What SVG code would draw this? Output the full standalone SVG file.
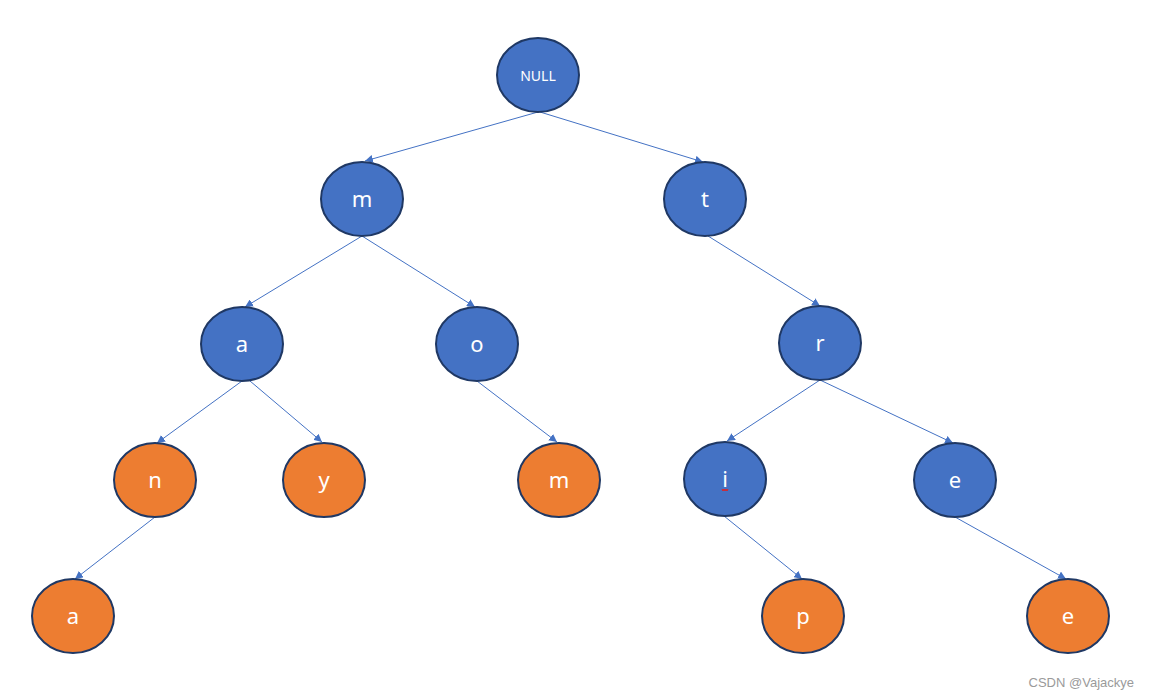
<svg xmlns="http://www.w3.org/2000/svg" width="1149" height="699" viewBox="0 0 1149 699">
<style>
.n ellipse{stroke:#1F3864;stroke-width:2}
.b ellipse{fill:#4472C4}
.o ellipse{fill:#ED7D31}
.n text{fill:#fff;font-family:"Noto Sans","Liberation Sans",sans-serif;font-size:22px;text-anchor:middle;dominant-baseline:central}
#edges line{stroke:#4472C4;stroke-width:1;marker-end:url(#ah)}
</style>
<defs>
<marker id="ah" viewBox="0 0 10 10" refX="10" refY="5" markerWidth="8" markerHeight="8" markerUnits="userSpaceOnUse" orient="auto">
<path d="M0,0 L10,5 L0,10 z" fill="#4472C4"/>
</marker>
</defs>
<rect width="1149" height="699" fill="#fff"/>
<g id="edges">
<line x1="538" y1="112" x2="365" y2="161"/>
<line x1="540" y1="112" x2="703" y2="162"/>
<line x1="362" y1="236" x2="245" y2="307"/>
<line x1="362" y1="236" x2="475" y2="307"/>
<line x1="708" y1="236" x2="820" y2="306"/>
<line x1="242" y1="381" x2="157" y2="443"/>
<line x1="250" y1="381" x2="322" y2="442"/>
<line x1="477" y1="381" x2="557" y2="442"/>
<line x1="820" y1="380" x2="727" y2="441"/>
<line x1="820" y1="380" x2="953" y2="443"/>
<line x1="155" y1="517" x2="75" y2="579"/>
<line x1="724" y1="516" x2="802" y2="579"/>
<line x1="955" y1="517" x2="1066" y2="579"/>
</g>
<g id="node-null" class="n b"><ellipse cx="538" cy="75" rx="41" ry="37"/><text x="538" y="75" style="font-size:14px">NULL</text></g>
<g id="node-m" class="n b"><ellipse cx="362" cy="199" rx="41" ry="37"/><text x="362" y="198">m</text></g>
<g id="node-t" class="n b"><ellipse cx="705" cy="199" rx="41" ry="37"/><text x="705" y="198">t</text></g>
<g id="node-a" class="n b"><ellipse cx="242" cy="344" rx="41" ry="37"/><text x="242" y="343">a</text></g>
<g id="node-o" class="n b"><ellipse cx="477" cy="344" rx="41" ry="37"/><text x="477" y="343">o</text></g>
<g id="node-r" class="n b"><ellipse cx="820" cy="343" rx="41" ry="37"/><text x="820" y="342">r</text></g>
<g id="node-n" class="n o"><ellipse cx="155" cy="480" rx="41" ry="37"/><text x="155" y="479">n</text></g>
<g id="node-y" class="n o"><ellipse cx="324" cy="480" rx="41" ry="37"/><text x="324" y="479">y</text></g>
<g id="node-m2" class="n o"><ellipse cx="559" cy="480" rx="41" ry="37"/><text x="559" y="479">m</text></g>
<g id="node-i" class="n b"><ellipse cx="725" cy="479" rx="41" ry="37"/><text x="725" y="478">i</text><path d="M722,489 l1,2 l1,-2 l1,2 l1,-2 l1,2 l1,-2" fill="none" stroke="#E02020" stroke-width="1"/></g>
<g id="node-e" class="n b"><ellipse cx="955" cy="480" rx="41" ry="37"/><text x="955" y="479">e</text></g>
<g id="node-a2" class="n o"><ellipse cx="73" cy="616" rx="41" ry="37"/><text x="73" y="615">a</text></g>
<g id="node-p" class="n o"><ellipse cx="803" cy="616" rx="41" ry="37"/><text x="803" y="615">p</text></g>
<g id="node-e2" class="n o"><ellipse cx="1068" cy="616" rx="41" ry="37"/><text x="1068" y="615">e</text></g>
<text x="1134" y="687" text-anchor="end" font-family="Liberation Sans, Arial, sans-serif" font-size="13" fill="#9a9a9a">CSDN @Vajackye</text>
</svg>
